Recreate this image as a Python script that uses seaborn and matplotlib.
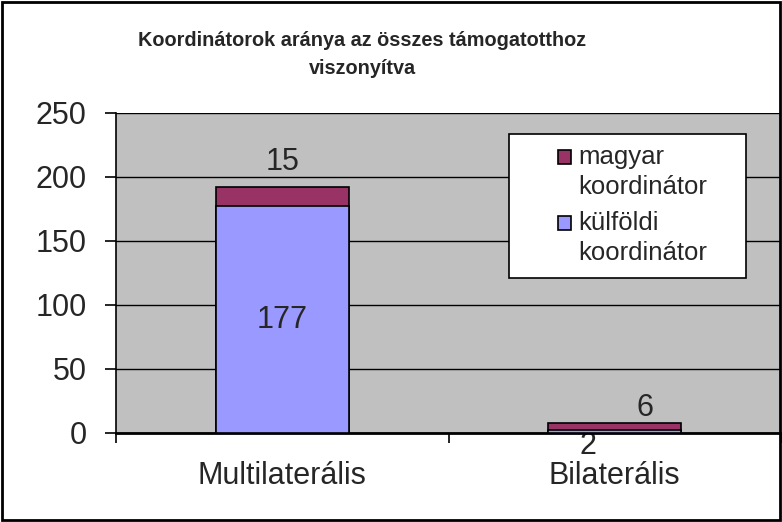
import matplotlib
matplotlib.use("Agg")
import matplotlib.pyplot as plt
import seaborn as sns
import pandas as pd
from matplotlib.patches import Rectangle

# chart data
categories = ["Multilaterális", "Bilaterális"]
kulfoldi = [177, 2]
magyar = [15, 6]
yticks = [0, 50, 100, 150, 200, 250]
series_labels = ["magyar\nkoordinátor", "külföldi\nkoordinátor"]
series_colors = ["#993366", "#9999FF"]

sns.set_style("white")
plt.rcParams['font.family'] = ['Liberation Sans', 'DejaVu Sans']

W, H = 782, 522
data = pd.DataFrame({"kat": categories, "kulfoldi": kulfoldi, "magyar": magyar})
data["osszes"] = data["kulfoldi"] + data["magyar"]

fig = plt.figure(figsize=(W / 100, H / 100), dpi=100)
ax = fig.add_axes([116 / W, 89 / H, 665 / W, 320 / H])
ax.set_facecolor("#C0C0C0")

# stacked bars: total in purple, foreign part on top of it
sns.barplot(x="kat", y="osszes", data=data, color=series_colors[0], width=0.4,
            edgecolor="black", linewidth=1.2, saturation=1, ax=ax, zorder=3)
sns.barplot(x="kat", y="kulfoldi", data=data, color=series_colors[1], width=0.4,
            edgecolor="black", linewidth=1.2, saturation=1, ax=ax, zorder=3)

ax.set_ylim(0, 250)
ax.set_xlim(-0.5, 1.5)
ax.set_yticks(yticks)
ax.set_xlabel("")
ax.set_ylabel("")
ax.grid(axis="y", color="black", linewidth=1, zorder=1)
ax.set_axisbelow(True)

for s in ["top", "right"]:
    ax.spines[s].set_visible(False)
ax.spines["left"].set_color("black")
ax.spines["left"].set_linewidth(1.2)
ax.spines["bottom"].set_color("black")
ax.spines["bottom"].set_linewidth(2)

ax.tick_params(axis="y", length=8, width=1.2, color="black", labelsize=22, pad=13, left=True)
ax.tick_params(axis="x", which="major", length=0, labelsize=22, pad=20)
ax.set_xticks([-0.5, 0.5, 1.5], minor=True)
ax.tick_params(axis="x", which="minor", length=7, width=1.2, color="black", bottom=True)

# value labels
ax.text(0, 212, str(magyar[0]), ha="center", va="center", fontsize=22)
ax.text(0, 88.5, str(kulfoldi[0]), ha="center", va="center", fontsize=22)
ax.text(1.09, 19.5, str(magyar[1]), ha="center", va="center", fontsize=22)
ax.text(0.92, 1.5, str(kulfoldi[1]), ha="center", va="top", fontsize=22,
        clip_on=False, zorder=0)

# legend box drawn like the Excel one
def fx(px):
    return px / W

def fy(py):
    return 1 - py / H

fig.patches.append(Rectangle((fx(509), fy(278)), fx(746) - fx(509), fy(134) - fy(278),
                             transform=fig.transFigure, facecolor="white",
                             edgecolor="black", linewidth=1.2, zorder=5))
for lab, col, top in zip(series_labels, series_colors, [145, 211]):
    fig.patches.append(Rectangle((fx(558), fy(top + 19)), fx(571) - fx(558), fy(top + 5) - fy(top + 19),
                                 transform=fig.transFigure, facecolor=col,
                                 edgecolor="black", linewidth=1.2, zorder=6))
    fig.text(fx(578), fy(top), lab, ha="left", va="top", fontsize=18.5,
             linespacing=1.33, zorder=6)

fig.text(362 / W, fy(40), "Koordinátorok aránya az összes támogatotthoz",
         ha="center", va="center", fontsize=14.3, fontweight="bold")
fig.text(362 / W, fy(68), "viszonyítva",
         ha="center", va="center", fontsize=14.3, fontweight="bold")

fig.patches.append(Rectangle((0.002, 0.003), 0.996, 0.994, transform=fig.transFigure,
                             fill=False, edgecolor="black", linewidth=2))

fig.savefig("out.png", dpi=100)
